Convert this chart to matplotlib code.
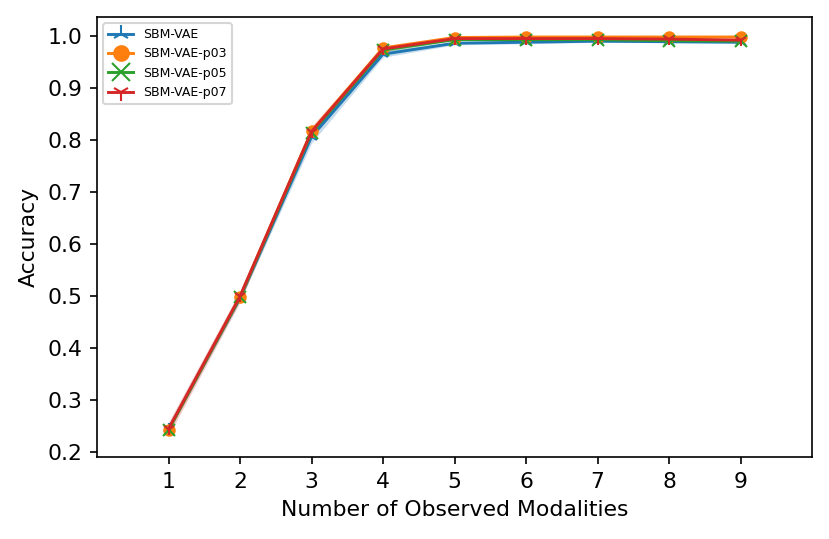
import matplotlib
matplotlib.use("Agg")
import matplotlib.pyplot as plt
import numpy as np

modalities = [1, 2, 3, 4, 5, 6, 7, 8, 9]
sbm_vae     = [0.243, 0.496, 0.806, 0.965, 0.986, 0.988, 0.990, 0.989, 0.988]
sbm_vae_p03 = [0.242, 0.498, 0.817, 0.977, 0.997, 0.998, 0.998, 0.998, 0.998]
sbm_vae_p05 = [0.242, 0.497, 0.814, 0.973, 0.993, 0.993, 0.993, 0.991, 0.990]
sbm_vae_p07 = [0.244, 0.499, 0.816, 0.975, 0.995, 0.995, 0.995, 0.994, 0.992]
std_vae     = [0.005, 0.006, 0.012, 0.006, 0.003, 0.003, 0.002, 0.002, 0.002]
std_p03     = [0.003, 0.003, 0.004, 0.003, 0.001, 0.001, 0.001, 0.001, 0.001]
std_p05     = [0.003, 0.004, 0.005, 0.004, 0.002, 0.002, 0.002, 0.002, 0.002]
std_p07     = [0.013, 0.011, 0.010, 0.005, 0.002, 0.002, 0.002, 0.002, 0.002]

series = [
    ("SBM-VAE", sbm_vae, std_vae, "#1f77b4", "2"),
    ("SBM-VAE-p03", sbm_vae_p03, std_p03, "#ff7f0e", "o"),
    ("SBM-VAE-p05", sbm_vae_p05, std_p05, "#2ca02c", "x"),
    ("SBM-VAE-p07", sbm_vae_p07, std_p07, "#d62728", "1"),
]

plt.rcParams['font.size'] = 10.5
fig = plt.figure(figsize=(829/150, 539/150), dpi=150)
ax = fig.add_axes([97/829, 1-457/539, (812-97)/829, (457-17)/539])

x = np.array(modalities)
for name, m, s, c, mk in series:
    m = np.array(m); s = np.array(s)
    ax.plot(x, m, color=c, marker=mk, markersize=5 if mk == "o" else 6, label=name, linewidth=1.4)
    ax.fill_between(x, m - s, m + s, color=c, alpha=0.25, linewidth=0)

ax.set_xlim(0, 10)
ax.set_ylim(0.19, 1.0365)
ax.set_xticks(modalities)
ax.set_yticks([0.2, 0.3, 0.4, 0.5, 0.6, 0.7, 0.8, 0.9, 1.0])
ax.set_xlabel("Number of Observed Modalities")
ax.set_ylabel("Accuracy")
ax.legend(loc="upper left", fontsize=6, markerscale=1.4)

fig.savefig("out.png", dpi=150)
